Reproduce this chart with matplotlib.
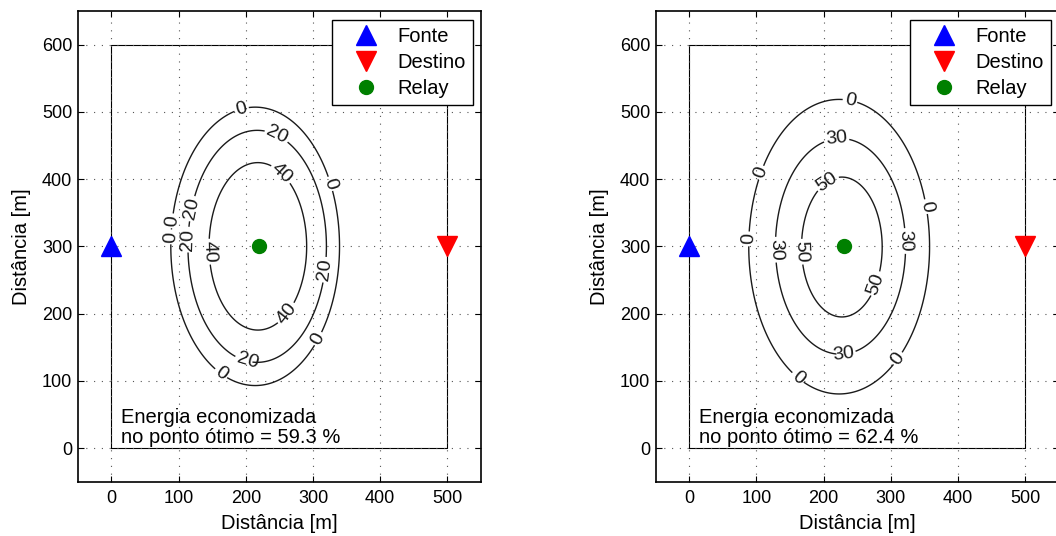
import numpy as np
import matplotlib
matplotlib.use('Agg')
import matplotlib.pyplot as plt

plt.rcParams['font.family'] = ['Liberation Sans', 'DejaVu Sans']
plt.rcParams['font.size'] = 13

# area do cenario (m)
area_w = 500
area_h = 600

# posicoes dos nos
fonte = (0, 300)
destino = (500, 300)
relay_esq = (220, 300)
relay_dir = (230, 300)

# curvas de nivel (energia economizada, %) - centro e semi-eixos de cada curva
niveis_esq = [0, 20, 40]
cx_esq = [214, 217, 218]
cy_esq = [300, 300, 300]
sx_esq = [125.5, 103, 72.6]
sy_esq = [207, 172.5, 124.5]
rotulos_esq = [
    [(194, 503), (326, 393), (307, 163), (161, 108), (90, 338), (90, 314)],
    [(244, 461), (319, 265), (202, 128), (120, 356), (114, 310)],
    [(252, 407), (144, 292), (260, 201)],
]
ganho_esq = 59.3

niveis_dir = [0, 30, 50]
cx_dir = [223, 225, 227]
cy_dir = [299.5, 300, 299]
sx_dir = [134.5, 96.8, 60]
sy_dir = [219, 160.4, 104]
rotulos_dir = [
    [(239, 516), (108, 409), (352, 359), (90, 311), (308, 135), (160, 103)],
    [(219, 460), (128, 295), (322, 308), (229, 136)],
    [(204, 397), (167, 292), (279, 244)],
]
ganho_dir = 62.4

xg = np.linspace(-50, 550, 601)
yg = np.linspace(-50, 650, 701)
X, Y = np.meshgrid(xg, yg)


def painel(ax, niveis, cx, cy, sx, sy, rotulos, relay, ganho):
    ax.plot([0, area_w, area_w, 0, 0], [0, 0, area_h, area_h, 0], 'k-', lw=0.8, zorder=1)
    for nivel, x0, y0, a, b, pos in zip(niveis, cx, cy, sx, sy, rotulos):
        R = np.hypot((X - x0) / a, (Y - y0) / b)
        cs = ax.contour(X, Y, R, levels=[1.0], colors='#1a1a1a', linewidths=1.0, zorder=2)
        ax.clabel(cs, fmt={1.0: str(nivel)}, manual=pos, inline=True,
                  inline_spacing=2, fontsize=14)
    ax.plot(*fonte, '^', color='blue', ms=15, ls='none', label='Fonte', zorder=4)
    ax.plot(*destino, 'v', color='red', ms=15, ls='none', label='Destino', zorder=4)
    ax.plot(*relay, 'o', color='green', ms=10, ls='none', label='Relay', zorder=4)
    ax.text(15, 2, 'Energia economizada\nno ponto ótimo = %.1f %%' % ganho,
            ha='left', va='bottom', fontsize=14.5, linespacing=1.05)
    ax.set_xlim(-50, 550)
    ax.set_ylim(-50, 650)
    ax.set_xticks(range(0, 501, 100))
    ax.set_yticks(range(0, 601, 100))
    ax.grid(True, ls=(0, (1, 6)), color='#555555', lw=0.8)
    ax.tick_params(direction='in', length=4, top=True, right=True)
    ax.tick_params(axis='x', pad=6)
    ax.tick_params(axis='y', pad=4)
    for s in ax.spines.values():
        s.set_linewidth(1.2)
    ax.set_xlabel('Distância [m]', fontsize=14.5, labelpad=5)
    ax.set_ylabel('Distância [m]', fontsize=14.5, labelpad=8)
    leg = ax.legend(loc='upper right', bbox_to_anchor=(0.9794, 0.9809), borderaxespad=0,
                    fancybox=False, edgecolor='black', framealpha=1, fontsize=14.5,
                    labelspacing=0.35, handletextpad=0.2, borderpad=0.35,
                    handlelength=2.7)
    leg.get_frame().set_linewidth(1.0)


fig = plt.figure(figsize=(10.56, 5.36), dpi=100)
ax1 = fig.add_axes([0.0736, 0.1013, 0.3819, 0.8782])
ax2 = fig.add_axes([0.6209, 0.1013, 0.3819, 0.8782])

painel(ax1, niveis_esq, cx_esq, cy_esq, sx_esq, sy_esq, rotulos_esq, relay_esq, ganho_esq)
painel(ax2, niveis_dir, cx_dir, cy_dir, sx_dir, sy_dir, rotulos_dir, relay_dir, ganho_dir)

fig.savefig('out.png', dpi=100)
